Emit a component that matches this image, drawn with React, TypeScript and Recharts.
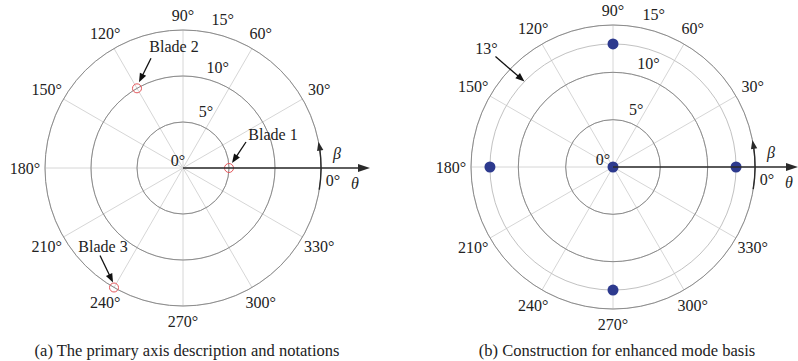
import React from 'react';
import { RadarChart, Radar, PolarGrid, PolarAngleAxis, PolarRadiusAxis } from 'recharts';

// ---------- data ----------
const angleTicks = ['0°', '30°', '60°', '90°', '120°', '150°', '180°', '210°', '240°', '270°', '300°', '330°'];
const radiusDomain = [0, 15];
const radiusTickCount = 4; // 0, 5, 10, 15
const bladeNames = ['Blade 1', 'Blade 2', 'Blade 3'];
const bladeAngles = ['0°', '120°', '240°'];
const bladeRadii = [5, 10, 15];
const modeAngles = ['0°', '90°', '180°', '270°'];
const modeRadii = [13, 13, 13, 13];
const centerAngles = ['0°'];
const centerRadii = [0];
const ringRadius = 13;
const ringLabel = '13°';
const captions = ['(a) The primary axis description and notations', '(b) Construction for enhanced mode basis'];

// Recharts lays categories out clockwise; list them 0°, 330°, 300° … so θ grows counter-clockwise.
const ccwOrder = [angleTicks[0], ...angleTicks.slice(1).reverse()];

const leftData = ccwOrder.map((a) => {
  const i = bladeAngles.indexOf(a);
  return { angle: a, blade: i >= 0 ? bladeRadii[i] : null, name: i >= 0 ? bladeNames[i] : '' };
});
const rightData = ccwOrder.map((a) => {
  const i = modeAngles.indexOf(a);
  const c = centerAngles.indexOf(a);
  return { angle: a, mode: i >= 0 ? modeRadii[i] : null, center: c >= 0 ? centerRadii[c] : null, ring: ringRadius };
});

// ---------- style ----------
const FONT = "'Liberation Serif', 'Times New Roman', serif";
const FS = 16;
const TXT = '#222';
const SPOKE = '#d6d6d6';
const RING = '#8c8c8c';
const RING13 = '#c2c2c2';
const AXIS = '#2a2a2a';
const RED = '#e4575b';
const BLUE = '#2d3a8e';
const RAD = Math.PI / 180;

const charts = [
  { left: 0, width: 400, cx: 183, cy: 168, R: 138, axisLen: 187, zeroDx: -5 },
  { left: 400, width: 398, cx: 213, cy: 167, R: 142, axisLen: 185, zeroDx: -10 },
];

const bladeNote: Record<string, { tx: number; ty: number; ax: number; ay: number; bx: number; by: number }> = {
  'Blade 1': { tx: 44, ty: -28, ax: 17, ay: -26, bx: 3, by: -5 },
  'Blade 2': { tx: 37, ty: -36, ax: 14, ay: -30, bx: 2, by: -6 },
  'Blade 3': { tx: -11, ty: -36, ax: -14, ay: -32, bx: -1, by: -5 },
};

function Arrow({ x1, y1, x2, y2, len = 9, half = 3.5, color = '#111', width = 1.3 }: any) {
  const dx = x2 - x1;
  const dy = y2 - y1;
  const d = Math.hypot(dx, dy) || 1;
  const ux = dx / d;
  const uy = dy / d;
  const bx = x2 - ux * len;
  const by = y2 - uy * len;
  const pts = `${x2},${y2} ${bx - uy * half},${by + ux * half} ${bx + uy * half},${by - ux * half}`;
  return (
    <g>
      <line x1={x1} y1={y1} x2={bx + ux * 1} y2={by + uy * 1} stroke={color} strokeWidth={width} />
      <polygon points={pts} fill={color} />
    </g>
  );
}

const rowOf = (props: any) => {
  const p = props.payload;
  if (p && p.payload && typeof p.payload === 'object') return p.payload;
  return p;
};

const AngleTick = (props: any) => {
  const { x, y, payload } = props;
  const a = payload.coordinate * RAD;
  const cos = Math.cos(a);
  const sin = Math.sin(a);
  if (payload.value === '0°') {
    return (
      <text x={x + 4} y={y + 12} textAnchor="middle" dominantBaseline="central" fontFamily={FONT} fontSize={FS} fill={TXT}>
        {payload.value}
      </text>
    );
  }
  const extra = 7 + 5 * Math.abs(cos);
  return (
    <text x={x + extra * cos} y={y - extra * sin} textAnchor="middle" dominantBaseline="central" fontFamily={FONT} fontSize={FS} fill={TXT}>
      {payload.value}
    </text>
  );
};

const makeRadiusTick = (zeroDx: number) => (props: any) => {
  const { x, y, payload } = props;
  const v = payload.value;
  const dx = v === 0 ? zeroDx : v === 15 ? 4 : 11;
  const dy = v === 0 ? -8 : v === 15 ? -15 : -12;
  return (
    <text x={x + dx} y={y + dy} textAnchor="middle" dominantBaseline="central" fontFamily={FONT} fontSize={FS} fill={TXT}>
      {`${v}°`}
    </text>
  );
};

const bladeDot = (props: any) => {
  const row = rowOf(props);
  const k = props.key ?? `b${props.index}`;
  if (!row || row.blade == null || !Number.isFinite(props.cx)) return <g key={k} />;
  const n = bladeNote[row.name];
  const { cx, cy } = props;
  return (
    <g key={k}>
      <circle cx={cx} cy={cy} r={4.5} fill="none" stroke={RED} strokeWidth={1} />
      {n && (
        <>
          <Arrow x1={cx + n.ax} y1={cy + n.ay} x2={cx + n.bx} y2={cy + n.by} />
          <text x={cx + n.tx} y={cy + n.ty} textAnchor="middle" fontFamily={FONT} fontSize={FS} fill={TXT}>
            {row.name}
          </text>
        </>
      )}
    </g>
  );
};

const makeFilledDot = (key: string) => (props: any) => {
  const row = rowOf(props);
  const k = props.key ?? `${key}${props.index}`;
  if (!row || row[key] == null || !Number.isFinite(props.cx)) return <g key={k} />;
  return <circle key={k} cx={props.cx} cy={props.cy} r={5.5} fill={BLUE} stroke="none" />;
};

const ringShape = (props: any) => {
  const pts = props.points || [];
  if (!pts.length) return <g />;
  const p = pts[0];
  const r = p.radius;
  const ang = p.angle ?? 0;
  const cx = p.cx ?? p.x - r * Math.cos(-ang * RAD);
  const cy = p.cy ?? p.y - r * Math.sin(-ang * RAD);
  const tipA = 136 * RAD;
  const tx = cx + r * Math.cos(tipA);
  const ty = cy - r * Math.sin(tipA);
  return (
    <g>
      <circle cx={cx} cy={cy} r={r} fill="none" stroke={RING13} strokeWidth={1} />
      <Arrow x1={tx - 29} y1={ty - 25} x2={tx} y2={ty} />
      <text x={tx - 38} y={ty - 33} textAnchor="middle" dominantBaseline="central" fontFamily={FONT} fontSize={FS} fill={TXT}>
        {ringLabel}
      </text>
    </g>
  );
};

function Overlay() {
  return (
    <svg width={798} height={361} style={{ position: 'absolute', left: 0, top: 0, pointerEvents: 'none' }}>
      {charts.map((c, i) => {
        const cx = c.left + c.cx;
        const cy = c.cy;
        const ex = cx + c.R;
        const a1 = -9 * RAD;
        const a2 = 11 * RAD;
        const p1x = cx + c.R * Math.cos(a1);
        const p1y = cy - c.R * Math.sin(a1);
        const p2x = cx + c.R * Math.cos(a2);
        const p2y = cy - c.R * Math.sin(a2);
        const tdx = -Math.sin(a2);
        const tdy = -Math.cos(a2);
        return (
          <g key={i}>
            <Arrow x1={cx} y1={cy} x2={cx + c.axisLen} y2={cy} len={12} half={4} color={AXIS} width={1.6} />
            <path d={`M${p1x},${p1y} A${c.R},${c.R} 0 0 0 ${p2x - tdx * 6},${p2y - tdy * 6}`} fill="none" stroke={AXIS} strokeWidth={1.4} />
            <Arrow x1={p2x - tdx * 8} y1={p2y - tdy * 8} x2={p2x} y2={p2y} len={9} half={3.2} color={AXIS} width={1.4} />
            <text x={ex + 16} y={cy - 15} textAnchor="middle" dominantBaseline="central" fontFamily={FONT} fontSize={FS} fontStyle="italic" fill={TXT}>
              β
            </text>
            <text x={ex + 34} y={cy + 15} textAnchor="middle" dominantBaseline="central" fontFamily={FONT} fontSize={FS} fontStyle="italic" fill={TXT}>
              θ
            </text>
            <text x={cx + 4} y={350} textAnchor="middle" dominantBaseline="central" fontFamily={FONT} fontSize={16.5} fill={TXT}>
              {captions[i]}
            </text>
          </g>
        );
      })}
    </svg>
  );
}

function PolarFrame({ c, data, children }: any) {
  return (
    <div style={{ position: 'absolute', left: c.left, top: 0, width: c.width, height: 361 }}>
      <RadarChart
        width={c.width}
        height={361}
        cx={c.cx}
        cy={c.cy}
        outerRadius={c.R}
        startAngle={0}
        endAngle={-360}
        data={data}
        margin={{ top: 0, right: 0, bottom: 0, left: 0 }}
      >
        <PolarGrid gridType="circle" radialLines stroke={SPOKE} strokeWidth={1} />
        <PolarGrid gridType="circle" radialLines={false} stroke={RING} strokeWidth={1} />
        <PolarAngleAxis dataKey="angle" tick={AngleTick} tickLine={false} axisLine={false} />
        <PolarRadiusAxis
          type="number"
          domain={radiusDomain}
          tickCount={radiusTickCount}
          angle={75}
          axisLine={false}
          tickLine={false}
          tick={makeRadiusTick(c.zeroDx)}
        />
        {children}
      </RadarChart>
    </div>
  );
}

export default function App() {
  return (
    <div style={{ position: 'absolute', left: 0, top: 0, width: 798, height: 361, background: '#fff', overflow: 'hidden' }}>
      <PolarFrame c={charts[0]} data={leftData}>
        <Radar dataKey="blade" stroke="none" fill="none" fillOpacity={0} dot={bladeDot} isAnimationActive={false} />
      </PolarFrame>
      <PolarFrame c={charts[1]} data={rightData}>
        <Radar dataKey="ring" stroke="none" fill="none" shape={ringShape} dot={false} isAnimationActive={false} />
        <Radar dataKey="mode" stroke="none" fill="none" fillOpacity={0} dot={makeFilledDot('mode')} isAnimationActive={false} />
        <Radar dataKey="center" stroke="none" fill="none" fillOpacity={0} dot={makeFilledDot('center')} isAnimationActive={false} />
      </PolarFrame>
      <Overlay />
    </div>
  );
}
